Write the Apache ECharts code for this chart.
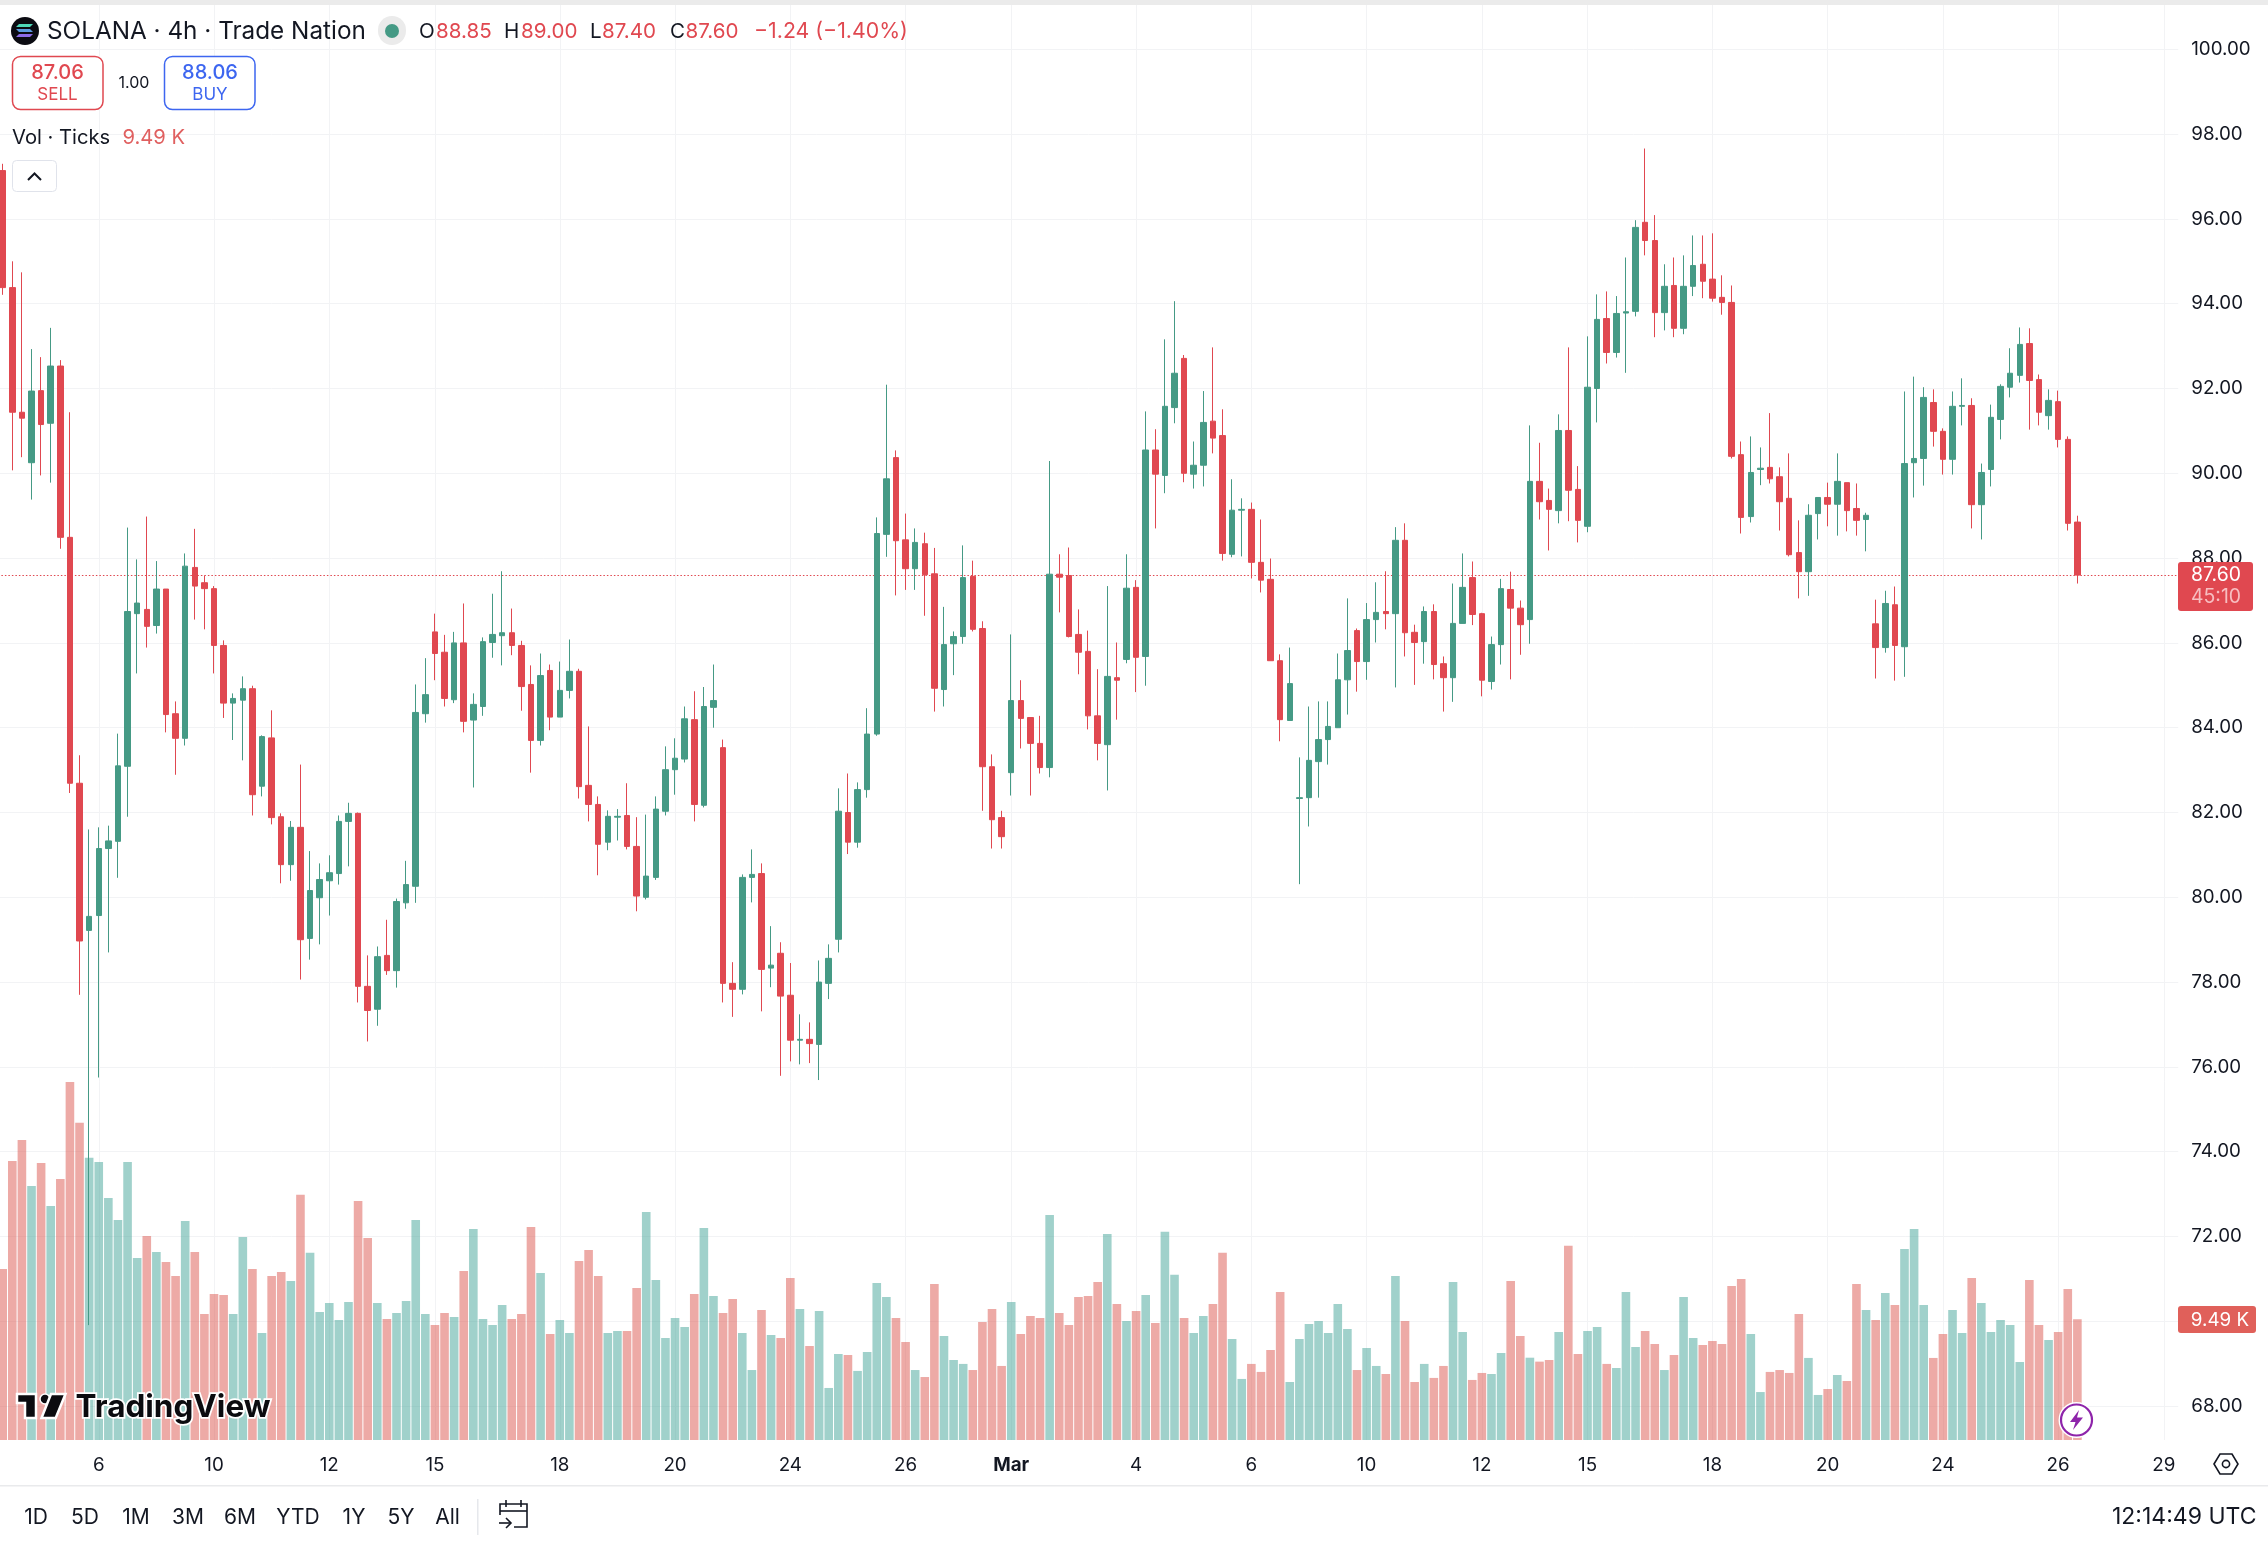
<!DOCTYPE html>
<html>
<head>
<meta charset="utf-8">
<title>SOLANA 4h</title>
<style>
html,body{margin:0;padding:0;background:#fff;}
#chart{width:2268px;height:1544px;}
</style>
<script src="https://cdn.jsdelivr.net/npm/echarts@6/dist/echarts.min.js"></script>
</head>
<body>
<div id="chart"></div>
<script>
// 4h bars, oldest first
const opens = [
97.14,94.38,91.44,90.25,91.95,91.18,92.53,88.49,82.69,79.22,
79.57,81.15,81.32,83.09,86.69,86.79,86.41,87.27,84.33,83.75,
87.78,87.42,87.28,85.94,84.58,84.65,84.92,82.62,83.76,81.90,
80.77,81.65,79.03,79.99,80.39,80.56,81.79,81.98,77.90,77.36,
78.63,78.27,79.87,80.26,84.33,86.26,85.78,84.66,86.00,84.18,
84.50,86.01,86.17,86.24,85.94,85.02,83.70,85.35,84.25,84.88,
85.33,82.64,82.19,81.30,81.89,81.93,81.20,80.00,80.47,82.03,
83.01,83.26,84.19,82.17,84.48,83.53,77.97,77.83,80.47,80.56,
78.33,78.68,77.69,76.63,76.65,76.53,77.97,79.01,82.00,81.30,
82.54,83.85,88.56,90.37,88.43,87.75,88.34,87.63,84.90,85.98,
86.15,87.57,86.34,83.08,81.88,82.94,84.64,84.24,83.63,83.06,
87.62,87.59,86.20,85.80,84.28,83.60,85.18,85.61,87.31,85.68,
90.55,89.95,91.55,92.71,89.98,90.19,91.23,90.89,88.09,89.13,
89.15,87.90,87.50,85.58,84.17,82.33,82.35,83.20,83.72,84.00,
85.13,86.29,85.56,86.55,86.74,86.69,88.42,86.25,86.03,86.74,
85.51,85.18,86.46,87.54,86.69,85.09,85.96,87.26,86.82,86.55,
89.81,89.36,89.12,91.01,89.62,88.75,92.00,93.65,92.85,93.78,
93.82,95.92,95.49,93.79,94.43,93.42,94.41,94.93,94.58,94.15,
94.03,90.44,88.98,90.09,90.14,89.92,89.41,88.13,87.68,89.05,
89.43,89.27,89.78,89.17,88.91,86.45,85.89,86.90,85.91,90.25,
90.35,91.67,90.99,90.33,91.58,91.60,89.26,90.09,91.27,92.03,
92.31,93.06,92.21,91.36,91.69,90.80,88.85];
const closes = [
94.38,91.44,91.30,91.94,91.15,92.53,88.49,82.69,78.97,79.55,
81.15,81.33,83.10,86.74,86.94,86.39,87.27,84.31,83.75,87.81,
87.34,87.28,85.94,84.58,84.69,84.92,82.42,83.79,81.88,80.77,
81.65,79.00,80.16,80.42,80.58,81.79,81.98,77.90,77.33,78.60,
78.27,79.90,80.30,84.36,84.78,85.75,84.69,86.00,84.15,84.55,
86.03,86.20,86.24,85.94,84.97,83.70,85.23,84.25,84.88,85.33,
82.61,82.19,81.25,81.91,81.91,81.20,80.03,80.50,82.08,83.01,
83.28,84.21,82.19,84.50,84.64,77.97,77.83,80.47,80.54,78.30,
78.40,77.67,76.63,76.65,76.55,78.00,78.56,82.03,81.30,82.54,
83.85,88.58,89.87,88.41,87.75,88.37,87.61,84.93,85.96,86.15,
87.54,86.32,83.08,81.83,81.43,84.64,84.22,83.63,83.06,87.62,
87.55,86.15,85.78,84.28,83.63,85.21,85.12,87.29,85.66,90.55,
89.98,91.58,92.36,90.00,90.19,91.20,90.83,88.11,89.13,89.15,
87.90,87.48,85.58,84.19,85.04,82.35,83.23,83.72,84.03,85.13,
85.82,85.56,86.55,86.72,86.69,88.42,86.24,86.01,86.74,85.49,
85.18,86.46,87.31,86.67,85.12,85.96,87.28,86.82,86.43,89.81,
89.33,89.15,91.01,89.60,88.89,92.03,93.63,92.85,93.77,93.81,
95.80,95.49,93.79,94.41,93.42,94.41,94.90,94.53,94.13,94.03,
90.40,88.96,90.02,90.12,89.87,89.33,88.08,87.68,89.01,89.43,
89.27,89.81,89.12,88.89,89.01,85.89,86.93,85.94,90.23,90.35,
91.79,90.99,90.33,91.58,91.60,89.26,90.02,91.32,92.05,92.36,
93.04,92.19,91.44,91.72,90.80,88.82,87.60];
const highs = [
97.30,95.00,94.74,92.93,92.74,93.43,92.67,91.44,83.35,81.60,
81.65,81.69,83.86,88.72,87.97,88.98,87.93,87.27,84.62,88.11,
88.69,87.59,87.34,86.06,84.81,85.21,84.99,83.82,84.41,81.98,
81.80,83.13,81.09,80.80,80.99,81.93,82.23,82.00,78.63,78.84,
79.47,79.97,80.86,85.02,85.64,86.69,86.19,86.26,86.93,84.81,
86.13,87.16,87.69,86.81,86.05,85.47,85.75,85.49,85.56,86.08,
85.39,84.03,82.38,82.05,82.08,82.69,81.89,81.95,82.38,83.56,
83.75,84.50,84.86,84.96,85.49,83.72,78.47,80.54,81.13,80.80,
79.32,78.94,78.45,77.24,77.05,78.51,78.89,82.57,82.92,82.71,
84.46,88.96,92.09,90.54,89.05,88.70,88.60,88.24,86.85,86.27,
88.30,87.94,86.51,83.37,82.04,86.20,85.12,84.24,84.28,90.29,
88.09,88.25,86.79,86.29,85.38,87.34,86.01,88.09,87.48,91.46,
91.04,93.16,94.06,92.79,90.75,91.94,92.97,91.51,89.86,89.41,
89.31,88.91,87.99,85.73,85.89,83.30,84.50,84.62,84.62,85.75,
87.05,86.34,86.94,87.43,87.69,88.73,88.82,86.43,86.86,86.91,
85.68,87.40,88.11,87.92,86.71,86.15,87.51,87.68,87.00,91.13,
90.72,89.64,91.39,92.97,90.17,93.23,94.22,94.29,94.18,95.09,
95.97,97.66,96.09,94.93,95.09,95.14,95.61,95.61,95.66,94.67,
94.43,90.75,90.87,90.61,91.42,90.14,90.47,88.89,89.27,89.43,
89.78,90.47,89.78,89.76,89.07,87.02,87.23,87.33,91.93,92.28,
92.03,91.98,91.06,91.93,92.24,91.77,90.23,91.62,92.10,92.95,
93.44,93.42,92.33,91.98,91.95,90.87,89.00];
const lows = [
94.21,90.07,90.38,89.38,89.95,89.78,88.22,82.46,77.70,69.91,
75.75,78.70,80.46,81.90,85.28,85.89,86.22,83.89,82.89,83.58,
86.55,86.32,85.28,84.23,83.71,83.23,81.93,82.38,81.72,80.33,
80.39,78.06,78.53,78.89,79.57,80.30,80.73,77.52,76.60,76.97,
78.17,77.87,79.73,79.87,84.12,85.12,84.50,84.58,83.89,82.59,
84.28,85.65,85.47,85.71,84.40,82.94,83.58,83.94,84.25,84.69,
82.33,81.79,80.52,81.11,81.34,81.13,79.67,79.95,80.41,81.93,
82.42,83.18,81.79,82.12,84.00,77.52,77.18,77.71,79.88,77.31,
77.88,75.79,76.13,76.06,76.09,75.69,77.60,78.70,81.02,81.17,
82.35,83.81,88.03,87.12,87.25,87.25,86.64,84.38,84.50,85.24,
85.98,86.27,82.04,81.15,81.15,82.40,83.51,82.40,82.92,82.83,
86.72,86.13,85.26,83.96,83.23,82.52,84.19,85.52,84.84,84.99,
88.70,89.53,91.18,89.79,89.64,89.69,90.47,87.94,88.02,88.04,
87.52,87.19,85.58,83.68,84.17,80.31,81.67,82.35,83.13,84.00,
84.31,84.85,85.13,86.01,86.32,84.95,85.68,85.01,85.51,85.14,
84.38,84.61,86.46,86.42,84.74,84.90,85.49,85.14,85.72,85.98,
88.91,88.18,88.82,88.87,88.37,88.61,91.20,92.59,92.73,92.37,
93.70,95.14,93.21,93.37,93.21,93.28,94.18,94.13,94.05,93.74,
90.35,88.58,88.84,89.72,89.76,88.65,88.04,87.05,87.11,88.44,
88.75,88.53,88.63,88.53,88.16,85.16,85.77,85.11,85.20,89.43,
89.71,90.63,89.97,89.97,91.13,88.70,88.44,89.69,90.80,91.79,
92.14,91.03,91.13,91.03,90.61,88.65,87.40];
// Tick volume, in thousands
const volumes = [
13.45,21.94,23.59,19.97,21.78,18.40,20.52,28.15,24.93,22.18,
21.86,19.03,17.30,21.86,14.31,16.04,14.78,14.00,12.90,17.22,
14.78,9.91,11.48,11.40,9.91,15.96,13.45,8.41,12.90,13.21,
12.50,19.27,14.71,10.07,10.77,9.44,10.85,18.79,15.88,10.77,
9.52,9.99,10.93,17.30,9.91,9.04,9.99,9.67,13.29,16.59,
9.52,9.04,10.62,9.52,9.91,16.75,13.13,8.34,9.44,8.41,
14.08,14.94,12.90,8.41,8.57,8.57,11.95,17.93,12.58,8.02,
9.59,8.89,11.48,16.67,11.32,9.99,11.09,8.41,5.50,10.22,
8.26,8.02,12.74,10.30,7.39,10.14,4.09,6.76,6.68,5.43,
6.92,12.35,11.25,9.59,7.71,5.50,4.95,12.27,8.18,6.29,
5.98,5.50,9.28,10.30,5.82,10.85,8.34,9.75,9.59,17.69,
9.99,9.04,11.25,11.32,12.42,16.20,10.69,9.36,10.14,11.40,
9.20,16.36,12.98,9.59,8.41,9.75,10.69,14.71,7.94,4.80,
5.98,5.35,7.08,11.64,4.56,7.94,9.12,9.36,8.41,10.69,
8.73,5.50,7.23,5.82,5.19,12.90,9.36,4.56,5.98,4.88,
5.82,12.42,8.49,4.72,5.27,5.19,6.84,12.50,8.18,6.47,
6.16,6.29,8.49,15.26,6.76,8.57,8.89,5.98,5.66,11.64,
7.31,8.57,7.55,5.50,6.68,11.25,8.02,7.47,7.79,7.55,
12.11,12.66,8.34,3.77,5.35,5.50,5.27,9.91,6.45,3.54,
4.01,5.11,4.64,12.27,10.22,9.44,11.56,10.62,15.02,16.59,
10.62,6.45,8.34,10.22,8.41,12.74,10.77,8.49,9.44,9.04,
6.13,12.58,9.04,7.86,8.49,11.87,9.49];

// Time scale: bar slots, including the empty ones to the right of the last bar
const slotCount = 227;
const tickSlots  = [10,22,34,45,58,70,82,94,105,118,130,142,154,165,178,190,202,214,225];
const tickLabels = ['6','10','12','15','18','20','24','26','Mar','4','6','10','12','15','18','20','24','26','29'];
const rangeButtons = ['1D','5D','1M','3M','6M','YTD','1Y','5Y','All'];
const lastPrice = 87.60;

const UI_FONT = 'Inter, "Noto Sans", sans-serif';
const INK = '#131722';
const RED = '#E04850';
const GREEN = '#459A85';
const BLUE = '#3D66F0';
const GRID = '#F2F3F5';

const categories = Array.from({length: slotCount}, (_, i) => String(i));
const candleData = opens.map((o, i) => [o, closes[i], lows[i], highs[i]]);
const volumeData = volumes.map((v, i) => ({
  value: v,
  itemStyle: {color: closes[i] >= opens[i] ? 'rgba(65,163,151,0.5)' : 'rgba(219,85,77,0.5)'}
}));
const isTick = idx => tickSlots.includes(idx);

// Both panes share the same band layout
const slotWidth = 9.605;
const paneLeft = 2.7 - slotWidth / 2;
const paneWidth = slotWidth * slotCount;

// Overlay helpers
const TOP_Z = 100;
function label(text, x, y, size, fill, align, weight) {
  return {type: 'text', z: TOP_Z, silent: true, style: {
    text, x, y, fill,
    font: (weight || 'normal') + ' ' + size + 'px ' + UI_FONT,
    align: align || 'left', textAlign: align || 'left',
    verticalAlign: 'middle', textVerticalAlign: 'middle'
  }};
}
function box(x, y, w, h, r, fill, stroke, lineWidth) {
  return {type: 'rect', z: TOP_Z, silent: true, shape: {x, y, width: w, height: h, r},
    style: {fill: fill || 'transparent', stroke: stroke || 'transparent', lineWidth: lineWidth || 0}};
}
function poly(type, points, style, z) {
  return {type, z: z || TOP_Z, silent: true, shape: {points}, style};
}
function disc(cx, cy, r, style, z) {
  return {type: 'circle', z: z || TOP_Z, silent: true, shape: {cx, cy, r}, style};
}

const overlay = [
  // Window strip
  box(0, 0, 2268, 5, 0, '#EBEBEB'),

  // Symbol line
  disc(25, 31, 14, {fill: '#0B0B12'}),
  poly('polygon', [[19,24],[33,24],[30,27],[16,27]], {fill: '#4FD8B8'}),
  poly('polygon', [[16,29],[30,29],[33,32],[19,32]], {fill: '#5C9BE0'}),
  poly('polygon', [[19,34],[33,34],[30,37],[16,37]], {fill: '#8C6BE8'}),
  label('SOLANA · 4h · Trade Nation', 47, 32, 24.3, INK),
  box(378, 16, 28, 29, 14, '#EBEBEB'),
  disc(392, 31, 7, {fill: GREEN}),
  label('O', 419, 32, 20.6, INK),
  label('88.85', 436, 32, 20.6, RED),
  label('H', 504, 32, 20.6, INK),
  label('89.00', 521, 32, 20.6, RED),
  label('L', 590, 32, 20.6, INK),
  label('87.40', 602, 32, 20.6, RED),
  label('C', 670, 32, 20.6, INK),
  label('87.60', 685.5, 32, 20.6, RED),
  label('−1.24 (−1.40%)', 754, 32, 21.3, RED),

  // Order buttons
  box(12.5, 56.5, 90.5, 53, 8, '#fff', RED, 1.5),
  label('87.06', 57.5, 73, 20, RED, 'center', 500),
  label('SELL', 57.5, 95, 17, RED, 'center'),
  label('1.00', 134, 83, 16, INK, 'center'),
  box(164.5, 56.5, 90.5, 53, 8, '#fff', BLUE, 1.5),
  label('88.06', 210, 73, 20, BLUE, 'center', 500),
  label('BUY', 210, 95, 17, BLUE, 'center'),

  // Volume legend and collapse button
  label('Vol · Ticks', 12, 138, 20.2, INK),
  label('9.49 K', 122.5, 138, 20.2, '#E06060'),
  box(12.5, 160.5, 44, 31, 4, '#fff', '#E0E3EB', 1),
  poly('polyline', [[28,180],[34.5,173.5],[41,180]], {fill: 'none', stroke: INK, lineWidth: 2}),

  // Last price and volume tags on the scale
  box(2178, 562, 75, 49, 3, RED),
  label('87.60', 2216, 575.5, 19.4, '#fff', 'center'),
  label('45:10', 2216, 597.5, 19.4, '#F7BEC1', 'center'),
  box(2178, 1306, 78, 27, 3, '#E0605A'),
  label('9.49 K', 2220, 1320, 18.8, '#fff', 'center'),

  // Lightning badge
  disc(2076.5, 1420, 18, {fill: '#fff'}),
  disc(2076.5, 1420, 15.5, {fill: '#fff', stroke: '#8E24AA', lineWidth: 2.2}, TOP_Z + 1),
  poly('polygon', [[2079,1410],[2070,1422],[2075.5,1422],[2073,1430],[2083,1417.5],[2077,1417.5]], {fill: '#8E24AA'}, TOP_Z + 1),

  // Watermark
  poly('polygon', [[17,1394],[36,1394],[36,1418],[25,1418],[25,1403],[17,1403]], {fill: '#0B0B0F', stroke: '#fff', lineWidth: 2.5}),
  disc(45, 1399, 5, {fill: '#0B0B0F', stroke: '#fff', lineWidth: 1.5}),
  poly('polygon', [[51,1394],[65.5,1394],[55.7,1418],[41.5,1418]], {fill: '#0B0B0F', stroke: '#fff', lineWidth: 2.5}),
  {type: 'text', z: TOP_Z, silent: true, style: {
    text: 'TradingView', x: 75.5, y: 1408, fill: '#0B0B0F',
    font: '700 31.5px ' + UI_FONT, stroke: '#fff', lineWidth: 3.5,
    align: 'left', textAlign: 'left', verticalAlign: 'middle', textVerticalAlign: 'middle'
  }},

  // Bottom bar
  box(0, 1485, 2268, 1.5, 0, '#E9EAEC'),
  poly('polygon', [[2214,1464],[2220,1454],[2232,1454],[2238,1464],[2232,1474],[2220,1474]], {fill: 'none', stroke: INK, lineWidth: 1.6}),
  disc(2226, 1464, 3.6, {fill: 'none', stroke: INK, lineWidth: 1.6}),
  box(477, 1499, 1.5, 36, 0, '#E6E8EC'),
  poly('polyline', [[500,1515],[500,1504],[527,1504],[527,1527],[514,1527]], {fill: 'none', stroke: INK, lineWidth: 1.6}),
  poly('polyline', [[500,1511],[527,1511]], {fill: 'none', stroke: INK, lineWidth: 1.6}),
  poly('polyline', [[506,1500],[506,1507]], {fill: 'none', stroke: INK, lineWidth: 1.6}),
  poly('polyline', [[521,1500],[521,1507]], {fill: 'none', stroke: INK, lineWidth: 1.6}),
  poly('polyline', [[499,1523],[511,1523]], {fill: 'none', stroke: INK, lineWidth: 1.6}),
  poly('polyline', [[506,1518],[511,1523],[506,1528]], {fill: 'none', stroke: INK, lineWidth: 1.6}),
  label('12:14:49 UTC', 2256.5, 1517, 23, INK, 'right')
];
const buttonCentres = [36, 85, 136, 188, 240, 298, 354, 401, 447.5];
rangeButtons.forEach((t, i) => overlay.push(label(t, buttonCentres[i], 1518, 21, INK, 'center')));

const chart = echarts.init(document.getElementById('chart'), null, {renderer: 'canvas'});
chart.setOption({
  animation: false,
  backgroundColor: '#ffffff',
  grid: [
    // Price pane: 42.4 px per unit; its lower end sits under the time scale so the axis starts on a tick
    {left: paneLeft, width: paneWidth, top: 5, height: 1485.9, containLabel: false, outerBoundsMode: 'none'},
    // Volume pane and time scale
    {left: paneLeft, width: paneWidth, top: 5, height: 1435, containLabel: false, outerBoundsMode: 'none'}
  ],
  xAxis: [
    {type: 'category', gridIndex: 0, data: categories, show: false},
    {
      type: 'category', gridIndex: 1, data: categories, boundaryGap: true,
      axisLine: {show: false},
      axisTick: {show: false},
      axisLabel: {
        interval: idx => isTick(idx),
        margin: 16,
        color: INK,
        fontFamily: UI_FONT,
        fontSize: 18.8,
        formatter: (value, idx) => {
          const t = tickLabels[tickSlots.indexOf(idx)];
          return t === 'Mar' ? '{strong|Mar}' : t;
        },
        rich: {strong: {fontWeight: 700, fontFamily: UI_FONT, fontSize: 18.8, color: INK}}
      },
      splitLine: {
        show: true,
        alignWithLabel: true,
        interval: idx => isTick(idx),
        lineStyle: {color: GRID, width: 1}
      }
    }
  ],
  yAxis: [
    {
      type: 'value', gridIndex: 0, position: 'right',
      min: 66, max: 101.045, interval: 2,
      axisLine: {show: false},
      axisTick: {show: false},
      axisLabel: {
        margin: 13, color: INK, fontFamily: UI_FONT, fontSize: 18.8,
        padding: [2, 0, 0, 0],
        showMinLabel: false, showMaxLabel: false,
        formatter: v => v.toFixed(2)
      },
      splitLine: {show: true, showMinLine: false, showMaxLine: false, lineStyle: {color: GRID, width: 1}}
    },
    {
      type: 'value', gridIndex: 1, min: 0, max: 112.8, show: false,
      splitLine: {show: false}
    }
  ],
  series: [
    {
      name: 'Vol', type: 'bar', xAxisIndex: 1, yAxisIndex: 1,
      data: volumeData, barWidth: 8.6, z: 1, animation: false
    },
    {
      name: 'SOLANA', type: 'candlestick', xAxisIndex: 0, yAxisIndex: 0,
      data: candleData, barWidth: 6, z: 3, animation: false,
      itemStyle: {color: GREEN, color0: RED, borderColor: GREEN, borderColor0: RED, borderWidth: 1},
      markLine: {
        silent: true, symbol: 'none', animation: false, z: 2,
        label: {show: false},
        lineStyle: {color: RED, type: [1.5, 2], width: 1},
        data: [{yAxis: lastPrice}]
      }
    }
  ],
  graphic: {elements: overlay}
});
</script>
</body>
</html>
